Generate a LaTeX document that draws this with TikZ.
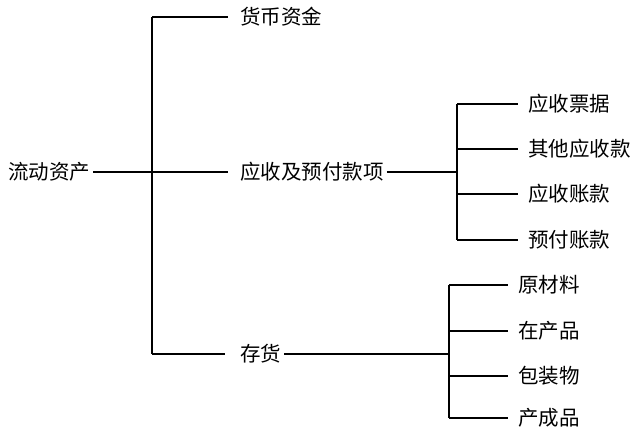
\documentclass[tikz,border=0pt]{standalone}
\usepackage{fontspec}
\newfontfamily\cjk{Noto Sans CJK SC}
\begin{document}
\begin{tikzpicture}[x=1pt,y=-1pt,
  lbl/.style={anchor=west,inner sep=0pt,font=\cjk\fontsize{20.5}{23}\selectfont},
  ln/.style={line width=1.2pt}]
\useasboundingbox (0,0) rectangle (634,430);
% level 1
\node[lbl] (root) at (8,172) {流动资产};
\node[lbl] (hb) at (240,17) {货币资金};
\node[lbl] (ys) at (240,172) {应收及预付款项};
\node[lbl] (ch) at (240,354) {存货};
\coordinate (vatop) at (152,17);
\coordinate (vabot) at (152,354);
\draw[ln] (vatop) -- (vabot);
\draw[ln] (vatop) -- ([xshift=-12pt]hb.west);
\draw[ln] ([xshift=3pt]root.east) -- ([xshift=-12pt]ys.west);
\draw[ln] (vabot) -- ([xshift=-15pt]ch.west);
% receivables
\node[lbl] (r1) at (528,104) {应收票据};
\node[lbl] (r2) at (528,149) {其他应收款};
\node[lbl] (r3) at (528,194) {应收账款};
\node[lbl] (r4) at (528,240) {预付账款};
\coordinate (vbtop) at (457,104);
\coordinate (vbbot) at (457,240);
\draw[ln] (vbtop) -- (vbbot);
\draw[ln] ([xshift=3pt]ys.east) -- (ys.east -| vbtop);
\foreach \n in {r1,r2,r3,r4}
  \draw[ln] (\n.west -| vbtop) -- ([xshift=-10pt]\n.west);
% inventory
\node[lbl] (i1) at (518,285) {原材料};
\node[lbl] (i2) at (518,331) {在产品};
\node[lbl] (i3) at (518,376) {包装物};
\node[lbl] (i4) at (518,418) {产成品};
\coordinate (vctop) at (449,285);
\coordinate (vcbot) at (449,418);
\draw[ln] (vctop) -- (vcbot);
\draw[ln] ([xshift=3pt]ch.east) -- (ch.east -| vctop);
\foreach \n in {i1,i2,i3,i4}
  \draw[ln] (\n.west -| vctop) -- ([xshift=-10pt]\n.west);
\end{tikzpicture}
\end{document}
